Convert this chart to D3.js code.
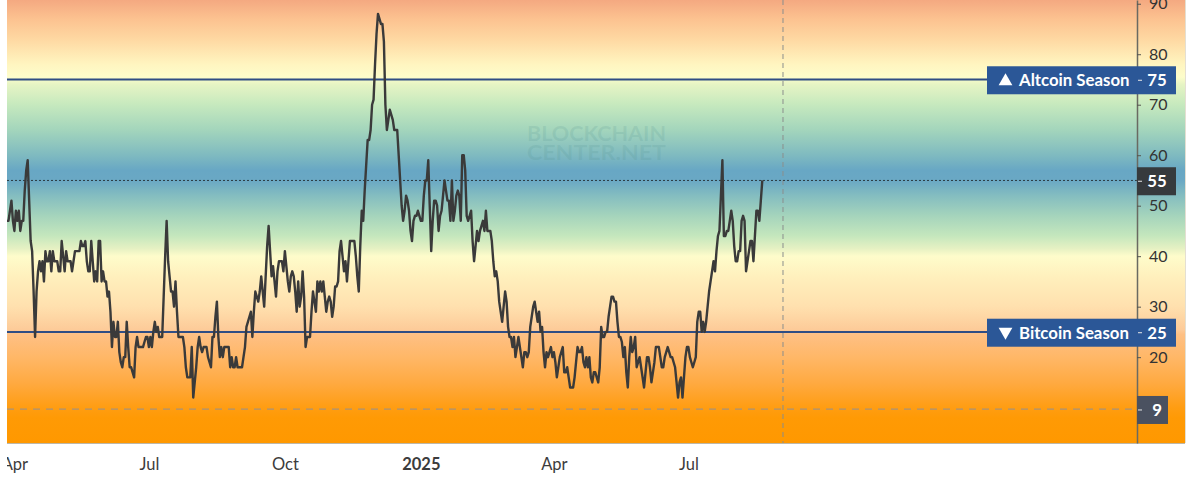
<!DOCTYPE html>
<html>
<head>
<meta charset="utf-8">
<script src="https://cdn.jsdelivr.net/npm/d3@7"></script>
<style>
  body { margin: 0; background: #fff; }
  text { font-family: Lato, sans-serif; }
  .y-axis .domain { stroke: #6a6a62; stroke-width: 1.5; }
  .y-axis .tick line { stroke: #55554f; }
  .y-axis .tick text { font-size: 16px; fill: #333; }
  .x-axis .domain, .x-axis .tick line { display: none; }
  .x-axis .tick text { font-size: 16.5px; fill: #3c3c3c; }
</style>
</head>
<body>
<div id="box"></div>
<script>
const startDate = new Date(2024, 2, 27);
const endDate = new Date(2026, 3, 30, 12);

// one value per day from startDate
const seasonIndex = [
47,47,49,51,47,45,49,47,49,45,47,47,53,57,59,51,43,41,33,24,
33,37,39,37,39,35,41,39,39,41,37,41,39,39,39,37,37,43,40,37,
41,39,39,39,37,39,41,41,41,41,43,42,42,43,39,37,37,43,39,35,
37,35,43,43,35,37,35,35,32,33,29,22,27,24,24,27,21,19,18,20,
20,27,22,18,18,17,16,22,24,22,22,22,22,23,24,24,22,24,22,25,
27,25,26,24,24,24,32,40,47,39,36,33,33,30,35,29,24,24,24,24,
22,18,16,16,16,22,12,15,18,22,24,22,21,22,22,22,20,19,18,24,
24,28,31,24,20,22,20,22,22,22,22,18,20,18,18,20,18,18,18,18,
20,22,26,27,28,29,24,29,33,32,31,33,36,33,30,36,42,46,41,36,
38,35,32,37,39,39,39,37,41,38,35,33,36,37,36,33,29,35,30,32,
37,32,22,24,24,24,29,33,31,29,35,33,35,33,35,32,29,31,32,31,
28,30,34,34,35,41,43,40,37,39,35,39,43,43,43,43,40,36,33,42,
49,47,53,58,63,63,65,70,71,78,84,88,87,86,86,82.5,70,65,67,69,
68,67,65,65,65,60,55,50,47,49,52,51,49,45,43,47,48,48,49,48,
47,47,52,55,55,59,50,41,47,51,51,50,45,48,49,52,55,53,51,51,
47,55,47,49,52,53,52,47,60,60,57,48,47,48,49,43,39,42,45,43,
45,46,47,45,49,45,45,45,43,39,36,37,35,31,29,27,30,33,31,26,
24,24,22,24,20,22,24,22,20,18,21,21,20,21,26,28,30,31,29,27,
29,25,26,21,18,21,20,21,22,20,21,19,16,18,20,21,22,17,17,18,
16,14,14,14,16,19,22,21,21,22,19,18,20,18,20,16,15,17,17,16,
15,18,26,24,24,25,25,28,30,32,32,31,31,27,24,24,23,20,22,17,
14,20,24,21,22,24,18,19,20,18,16,14,17,20,20,18,15,17,19,22,
22,22,20,18,18,20,21,22,21,20,20,19,18,15,12,15,16,12,16,20,
22,22,20,19,18,19,20,27,29,29,25,27,25,27,30,33,35,37,39,37,
41,44,45,52,59,44,44,45,45,47,49,47,42,39,39,41,41,47,48,47,
37,39,41,43,43,39,44,49,49,47,51,55
];

const yTicks = [90, 80, 70, 60, 50, 40, 30, 20];
const xTickDates = [
  new Date(2024, 3, 1), new Date(2024, 6, 1), new Date(2024, 9, 1),
  new Date(2025, 0, 1), new Date(2025, 3, 1), new Date(2025, 6, 1)
];
const xTickLabels = ['Apr', 'Jul', 'Oct', '2025', 'Apr', 'Jul'];

const altcoinLevel = 75;
const bitcoinLevel = 25;
const lastValue = 55;
const lowValue = 9.7;
const cursorDate = new Date(2025, 8, 3);

// background bands, top to bottom, in index values
const bandValues = [90.7, 87, 83, 78, 75.5, 74, 70, 65, 60, 57, 55, 52, 48, 44, 41.5, 40, 36, 30, 25.5, 24.5, 20, 15, 10, 8, 3];
const bandColors = ['#f4a981', '#fcc290', '#fed8a2', '#fff5c0', '#fdfdcb', '#e6f4c4', '#c6e9be', '#a3d5bc', '#7fbac0', '#68a7c4', '#6aa8c4', '#84bdc0', '#a5d4bc', '#c5e7bd', '#e6f1c3', '#fefccb', '#fff0bd', '#ffe0ae', '#fdcb99', '#fec084', '#ffb767', '#ffaa42', '#ff9d12', '#ff9a05', '#ff9800'];

const width = 1200;
const height = 490;
const left = 7, axisX = 1137, rightEdge = 1185, plotBottom = 443;

const svg = d3.select('#box').append('svg')
  .attr('width', width)
  .attr('height', height)
  .style('display', 'block');

const x = d3.scaleTime().domain([startDate, endDate]).range([left, axisX]);
const y = d3.scaleLinear().domain([90.74, 3]).range([0, plotBottom]);

const defs = svg.append('defs');
const grad = defs.append('linearGradient')
  .attr('id', 'bands')
  .attr('gradientUnits', 'userSpaceOnUse')
  .attr('x1', 0).attr('x2', 0)
  .attr('y1', 0).attr('y2', plotBottom);
bandValues.forEach((v, i) => {
  grad.append('stop')
    .attr('offset', y(v) / plotBottom)
    .attr('stop-color', bandColors[i]);
});

// the x axis group is translated, so this rect is in its coordinates
defs.append('clipPath').attr('id', 'xclip').append('rect')
  .attr('x', left).attr('y', 0).attr('width', width).attr('height', 47);

svg.append('rect')
  .attr('x', left).attr('y', 0)
  .attr('width', rightEdge - left).attr('height', plotBottom)
  .attr('fill', 'url(#bands)');

svg.append('line')
  .attr('x1', left).attr('x2', rightEdge)
  .attr('y1', plotBottom + 0.5).attr('y2', plotBottom + 0.5)
  .attr('stroke', '#bdb7a8');
svg.append('line')
  .attr('x1', rightEdge + 0.5).attr('x2', rightEdge + 0.5)
  .attr('y1', 0).attr('y2', plotBottom)
  .attr('stroke', '#e4dfd2');

// watermark
const mark = svg.append('g')
  .attr('fill', '#4f8f8c')
  .attr('fill-opacity', 0.17)
  .attr('font-weight', 700)
  .attr('font-size', 21);
mark.append('text').attr('x', 527).attr('y', 141)
  .attr('textLength', 139).attr('lengthAdjust', 'spacingAndGlyphs').text('BLOCKCHAIN');
mark.append('text').attr('x', 527).attr('y', 160)
  .attr('textLength', 139).attr('lengthAdjust', 'spacingAndGlyphs').text('CENTER.NET');

// cursor
svg.append('line')
  .attr('x1', x(cursorDate)).attr('x2', x(cursorDate))
  .attr('y1', 0).attr('y2', plotBottom)
  .attr('stroke', '#8a8f8c')
  .attr('stroke-dasharray', '5,4');

// level lines
[altcoinLevel, bitcoinLevel].forEach(v => {
  svg.append('line')
    .attr('x1', left).attr('x2', axisX)
    .attr('y1', y(v)).attr('y2', y(v))
    .attr('stroke', '#2f4d84')
    .attr('stroke-width', 2);
});
svg.append('line')
  .attr('x1', left).attr('x2', axisX)
  .attr('y1', y(lastValue)).attr('y2', y(lastValue))
  .attr('stroke', '#2b3a3f')
  .attr('stroke-dasharray', '2,2');
svg.append('line')
  .attr('x1', left).attr('x2', axisX)
  .attr('y1', y(lowValue)).attr('y2', y(lowValue))
  .attr('stroke', '#a8927a')
  .attr('stroke-width', 1.2)
  .attr('stroke-dasharray', '7,6');

const line = d3.line()
  .x((d, i) => x(d3.timeDay.offset(startDate, i)))
  .y(d => y(d));

svg.append('path')
  .datum(seasonIndex)
  .attr('fill', 'none')
  .attr('stroke', '#3a3a3a')
  .attr('stroke-width', 2.4)
  .attr('stroke-linejoin', 'round')
  .attr('d', line);

// axes
svg.append('g')
  .attr('class', 'y-axis')
  .attr('transform', `translate(${axisX},0)`)
  .call(d3.axisRight(y).tickValues(yTicks).tickSize(4).tickSizeOuter(0).tickPadding(8));

const xAxis = svg.append('g')
  .attr('class', 'x-axis')
  .attr('clip-path', 'url(#xclip)')
  .attr('transform', `translate(0,${plotBottom})`)
  .call(d3.axisBottom(x).tickValues(xTickDates).tickFormat((d, i) => xTickLabels[i]).tickPadding(9));
xAxis.selectAll('.tick text')
  .attr('font-weight', (d, i) => xTickLabels[i] === '2025' ? 700 : 400);

// tags on the price axis
function addTag(v, x0, x1, fill, name, text) {
  const cy = y(v) + 0.8;
  svg.append('rect')
    .attr('x', x0).attr('y', cy - 14)
    .attr('width', x1 - x0).attr('height', 28)
    .attr('fill', fill);
  svg.append('line')
    .attr('x1', axisX + 1).attr('x2', axisX + 5)
    .attr('y1', cy).attr('y2', cy)
    .attr('stroke', '#e8e8e8');
  if (name) {
    svg.append('text')
      .attr('x', 1019).attr('y', cy + 5.8)
      .attr('fill', '#fff').attr('font-size', 16.8).attr('font-weight', 700)
      .text(name);
    const up = v > 50;
    svg.append('path')
      .attr('d', d3.symbol(d3.symbolTriangle, 82))
      .attr('transform', `translate(1005.5,${cy + (up ? 1 : -1)}) rotate(${up ? 0 : 180})`)
      .attr('fill', '#fff');
  }
  svg.append('text')
    .attr('x', 1157).attr('y', cy + 5.8)
    .attr('text-anchor', 'middle')
    .attr('fill', '#fff').attr('font-size', 16.8).attr('font-weight', 700)
    .text(text);
}
addTag(altcoinLevel, 987, 1176, '#2b5797', 'Altcoin Season', altcoinLevel);
addTag(bitcoinLevel, 987, 1176, '#2b5797', 'Bitcoin Season', bitcoinLevel);
addTag(lastValue, 1137, 1176, '#363a3d', null, lastValue);
addTag(lowValue, 1137, 1168, '#4a5160', null, Math.floor(lowValue));
</script>
</body>
</html>
